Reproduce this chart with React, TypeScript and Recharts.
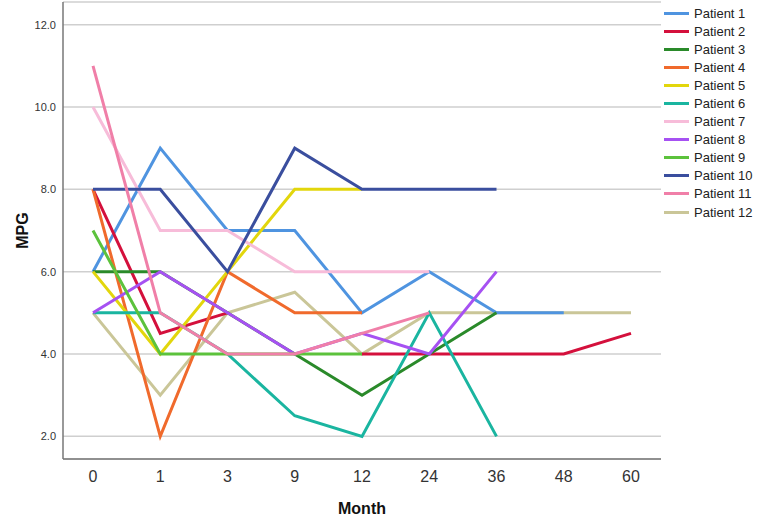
import React from 'react';
import { LineChart, Line, XAxis, YAxis, CartesianGrid, Label } from 'recharts';

const months = ['0', '1', '3', '9', '12', '24', '36', '48', '60'];

const patient1 = [6, 9, 7, 7, 5, 6, 5, 5, null];
const patient2 = [8, 4.5, 5, null, 4, 4, 4, 4, 4.5];
const patient3 = [6, 6, 5, 4, 3, 4, 5, null, null];
const patient4 = [8, 2, 6, 5, 5, null, null, null, null];
const patient5 = [6, 4, 6, 8, 8, null, null, null, null];
const patient6 = [5, 5, 4, 2.5, 2, 5, 2, null, null];
const patient7 = [10, 7, 7, 6, 6, 6, null, null, null];
const patient8 = [5, 6, 5, 4, 4.5, 4, 6, null, null];
const patient9 = [7, 4, 4, 4, 4, null, null, null, null];
const patient10 = [8, 8, 6, 9, 8, 8, 8, null, null];
const patient11 = [11, 5, 4, 4, 4.5, 5, null, null, null];
const patient12 = [5, 3, 5, 5.5, 4, 5, 5, 5, 5];

const seriesValues = [
  patient1, patient2, patient3, patient4, patient5, patient6,
  patient7, patient8, patient9, patient10, patient11, patient12,
];
const seriesNames = seriesValues.map((_, i) => `Patient ${i + 1}`);
const seriesColors = [
  '#4f94e0', '#d4103c', '#2a8a2a', '#f06a2c', '#e2d60c', '#1ab5a0',
  '#f7bcd9', '#a651f2', '#5cc23c', '#3a4e9e', '#f07fa8', '#cac698',
];

const yTicks = [2, 4, 6, 8, 10, 12];

const data = months.map((m, i) => {
  const row: Record<string, string | number | null> = { month: m };
  seriesNames.forEach((name, s) => {
    row[name] = seriesValues[s][i];
  });
  return row;
});

// patient 12 goes under the others (its tail sits under patient 1)
const drawOrder = [11, 0, 1, 2, 3, 4, 5, 6, 7, 8, 9, 10];

const font = '"Liberation Sans", Arial, sans-serif';

const LegendBox = () => (
  <div
    style={{
      position: 'absolute',
      left: 664,
      top: 4,
      fontFamily: font,
      fontSize: 13,
      color: '#222',
      whiteSpace: 'nowrap',
    }}
  >
    {seriesNames.map((name, i) => (
      <div key={name} style={{ display: 'flex', alignItems: 'center', height: 18.1 }}>
        <div style={{ width: 25, height: 3, background: seriesColors[i], marginRight: 5 }} />
        <span>{name}</span>
      </div>
    ))}
  </div>
);

export default function App() {
  return (
    <div style={{ position: 'absolute', left: 0, top: 0, width: 757, height: 517, background: '#fff' }}>
      <LineChart
        width={757}
        height={517}
        data={data}
        margin={{ top: 2, right: 96, bottom: 28, left: 0 }}
      >
        <CartesianGrid horizontal vertical={false} stroke="#cfcfcf" strokeWidth={1.5} />
        <XAxis
          dataKey="month"
          type="category"
          padding={{ left: 30, right: 30 }}
          height={30}
          tickSize={0}
          tickMargin={12}
          stroke="#777"
          strokeWidth={1.5}
          tick={{ fontSize: 16, fill: '#333', fontFamily: font }}
        >
          <Label
            content={({ viewBox }: any) => (
              <text
                x={viewBox.x + viewBox.width / 2}
                y={508}
                textAnchor="middle"
                dominantBaseline="central"
                fontFamily={font}
                fontWeight="bold"
                fontSize={16}
                fill="#111"
              >
                Month
              </text>
            )}
          />
        </XAxis>
        <YAxis
          type="number"
          domain={[1.45, 12.55]}
          allowDataOverflow
          ticks={yTicks}
          width={63}
          tickSize={0}
          tickMargin={7}
          stroke="#777"
          strokeWidth={1.5}
          tickFormatter={(v: number) => v.toFixed(1)}
          tick={{ fontSize: 11, fill: '#333', fontFamily: font }}
        >
          <Label
            content={({ viewBox }: any) => {
              const cy = viewBox.y + viewBox.height / 2;
              return (
                <text
                  x={22}
                  y={cy}
                  transform={`rotate(-90, 22, ${cy})`}
                  textAnchor="middle"
                  dominantBaseline="central"
                  fontFamily={font}
                  fontWeight="bold"
                  fontSize={16}
                  fill="#111"
                >
                  MPG
                </text>
              );
            }}
          />
        </YAxis>
        {drawOrder.map((s) => (
          <Line
            key={seriesNames[s]}
            dataKey={seriesNames[s]}
            stroke={seriesColors[s]}
            strokeWidth={3}
            dot={false}
            activeDot={false}
            connectNulls={false}
            isAnimationActive={false}
          />
        ))}
      </LineChart>
      <LegendBox />
    </div>
  );
}
